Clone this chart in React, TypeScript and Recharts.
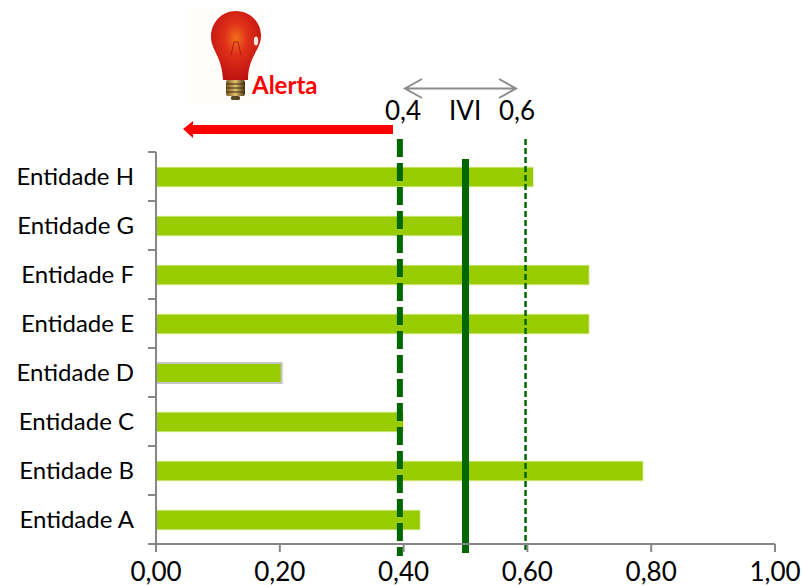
import { Bar, BarChart, Cell, ReferenceLine, XAxis, YAxis } from "recharts";

const categories = [
  "Entidade H",
  "Entidade G",
  "Entidade F",
  "Entidade E",
  "Entidade D",
  "Entidade C",
  "Entidade B",
  "Entidade A",
];
const values = [0.61, 0.5, 0.7, 0.7, 0.203, 0.4, 0.787, 0.427];
const xTicks = [0, 0.2, 0.4, 0.6, 0.8, 1];
const outlinedCategory = "Entidade D";
const lowerLimit = 0.394;
const ivi = 0.5;
const upperLimit = 0.597;

const data = categories.map((name, i) => ({ name, value: values[i] }));

const FONT = "Lato, 'Open Sans', sans-serif";
const AXIS = "#868686";
const GREEN = "#006600";
const BAND_HALF = 24.5;

// reference lines run past the plot area, so stretch them from the scaled ends
const stretched =
  (top: number, bottom: number, width: number, dash?: string) => (p: any) =>
    (
      <line
        x1={p.x1}
        x2={p.x2}
        y1={Math.min(p.y1, p.y2) - top}
        y2={Math.max(p.y1, p.y2) + bottom}
        stroke={GREEN}
        strokeWidth={width}
        strokeDasharray={dash}
      />
    );

// label plus the tick marks, which sit between the categories and not on them
function CategoryTick(p: any) {
  const axisX = 156;
  return (
    <g>
      <text x={p.x} y={p.y} dy="0.35em" textAnchor="end" fontFamily={FONT} fontSize={24} fill="#000">
        {p.payload.value}
      </text>
      <line x1={axisX - 8} x2={axisX} y1={p.y - BAND_HALF} y2={p.y - BAND_HALF} stroke={AXIS} strokeWidth={2} />
      <line x1={axisX - 8} x2={axisX} y1={p.y + BAND_HALF} y2={p.y + BAND_HALF} stroke={AXIS} strokeWidth={2} />
    </g>
  );
}

function Bulb() {
  return (
    <g>
      <defs>
        <radialGradient id="glass" cx="50%" cy="40%" r="58%">
          <stop offset="0%" stopColor="#f0701a" />
          <stop offset="40%" stopColor="#e0301a" />
          <stop offset="100%" stopColor="#c01410" />
        </radialGradient>
        <linearGradient id="screw" x1="0" x2="1" y1="0" y2="0">
          <stop offset="0%" stopColor="#7a5a20" />
          <stop offset="50%" stopColor="#e0c070" />
          <stop offset="100%" stopColor="#4a3510" />
        </linearGradient>
      </defs>
      <rect x="187" y="8" width="78" height="96" fill="#fffefb" />
      <path
        d="M236 11 C222 11 211 22 211 37 C211 50 222 56 223 80 L248 80 C248 56 261 50 261 36 C261 22 250 11 236 11 Z"
        fill="url(#glass)"
      />
      <path d="M231 55 L234 42 L238 42 L241 55" fill="none" stroke="#a82010" strokeWidth={1} />
      <ellipse cx="256" cy="41" rx="2.2" ry="4.5" fill="#ffe8e0" />
      <rect x="226" y="80" width="19" height="16" rx="2" fill="url(#screw)" />
      <path d="M226 84 H245 M226 88 H245 M226 92 H245" stroke="#3a2a10" strokeWidth={1.2} />
      <rect x="231" y="96" width="9" height="4" rx="1.5" fill="#5a4520" />
    </g>
  );
}

function Overlay() {
  const top = { fontFamily: FONT, fontSize: 26, fill: "#000" };
  return (
    <svg
      width={802}
      height={587}
      style={{ position: "absolute", left: 0, top: 0, pointerEvents: "none" }}
    >
      <Bulb />
      <text x={252} y={94} fontFamily={FONT} fontSize={24} fontWeight={700} fill="#ff0000">
        Alerta
      </text>
      <path d="M393 125 H193 V121 L183 129 L193 138 V134 H393 Z" fill="#ff0000" />
      <path
        d="M422 79 L405 88.5 L422 98 M405 88.5 H516 M499 79 L516 88.5 L499 98"
        fill="none"
        stroke="#8c8c8c"
        strokeWidth={2}
      />
      <text x={385} y={119.5} {...top}>
        0,4
      </text>
      <text x={449} y={119.5} {...top}>
        IVI
      </text>
      <text x={499} y={119.5} {...top}>
        0,6
      </text>
    </svg>
  );
}

export default function App() {
  return (
    <div style={{ position: "fixed", left: 0, top: 0, width: 802, height: 587, background: "#fff" }}>
      <BarChart
        width={802}
        height={587}
        data={data}
        layout="vertical"
        barSize={20}
        margin={{ top: 152, right: 27, bottom: 0, left: 0 }}
      >
        <XAxis
          type="number"
          domain={[0, 1]}
          ticks={xTicks}
          height={43}
          interval={0}
          tickFormatter={(v: number) => v.toFixed(2).replace(".", ",")}
          tick={{ fontSize: 26, fill: "#000", fontFamily: FONT }}
          stroke={AXIS}
          strokeWidth={2}
          tickSize={8}
          tickMargin={11}
        />
        <YAxis
          type="category"
          dataKey="name"
          width={156}
          interval={0}
          tick={<CategoryTick />}
          stroke={AXIS}
          strokeWidth={2}
          tickLine={false}
          tickMargin={16}
        />
        <Bar dataKey="value" fill="#99cc00" isAnimationActive={false}>
          {data.map((d) => (
            <Cell
              key={d.name}
              stroke={d.name === outlinedCategory ? "#c4c4c4" : "#eef6d2"}
              strokeWidth={d.name === outlinedCategory ? 2 : 1}
            />
          ))}
        </Bar>
        <ReferenceLine x={lowerLimit} shape={stretched(13, 12, 6, "18 6")} />
        <ReferenceLine x={ivi} shape={stretched(-7, 9, 7)} />
        <ReferenceLine x={upperLimit} shape={stretched(13, 9, 2.5, "6 3")} />
      </BarChart>
      <Overlay />
    </div>
  );
}
